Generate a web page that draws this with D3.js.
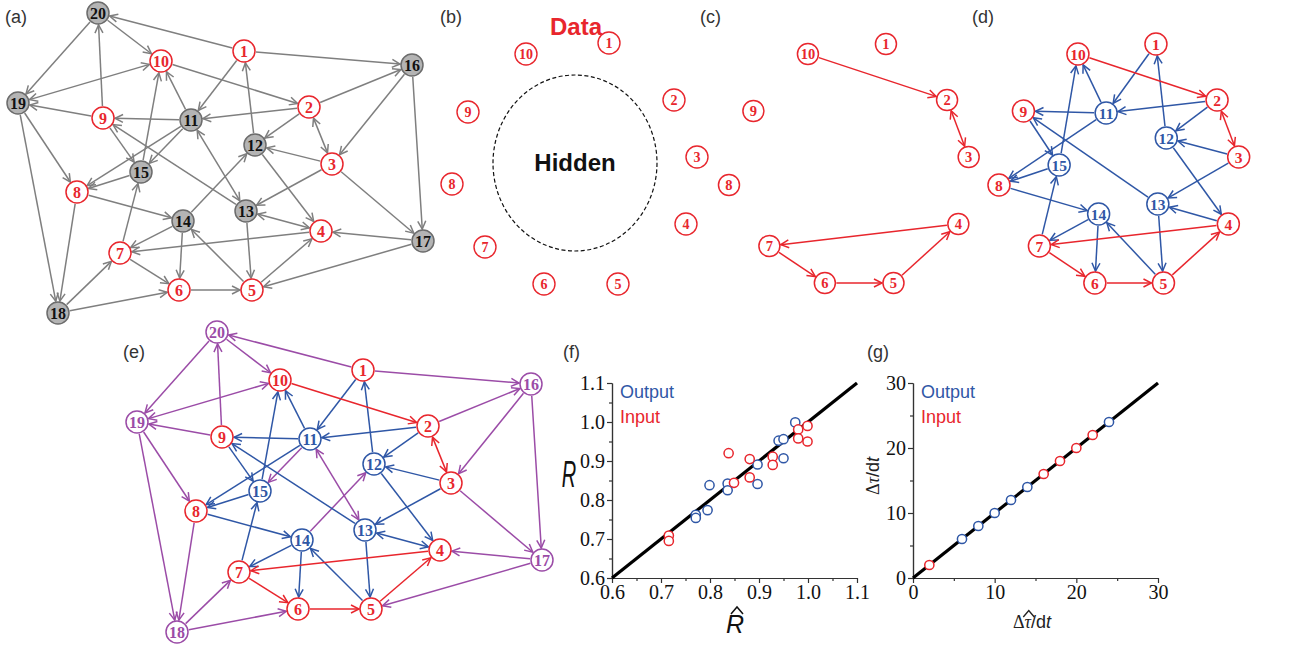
<!DOCTYPE html>
<html>
<head>
<meta charset="utf-8">
<script src="https://cdn.jsdelivr.net/npm/d3@7"></script>
<style>
body{margin:0;background:#fff;}
text{font-family:"Liberation Sans",Arial,sans-serif;}
</style>
</head>
<body>
<svg id="fig" width="1296" height="649"></svg>
<script>
// full network layout (node 1..20)
var layoutX = [244,309,332,321,252,179,120,77,103,161,191,255,246,183,141,412,423,58,18,98];
var layoutY = [51,107,164,231,290,290,253,192,118,61,120,145,211,221,172,65,241,313,103,13];
// panel (b): observed nodes 1..10 on a ring round the hidden part
var ringX = [609,674,697,686,618,544,485,452,468,526];
var ringY = [43,100,157,224,284,284,247,184,112,54];

// edges [source, target, heads]  heads: 0 one, 1 both, 2 both except in (d)
var dataEdges  = [[10,2,0],[2,3,1],[4,7,0],[7,6,0],[6,5,0],[5,4,0]];
var innerEdges = [[1,11,0],[11,10,0],[15,10,0],[2,11,0],[11,9,0],[9,15,0],[11,8,0],[15,8,0],[7,15,0],[2,12,0],
                  [12,1,0],[3,12,0],[12,4,0],[3,13,0],[13,9,0],[4,13,2],[13,5,0],[8,14,0],[14,7,0],[14,6,0],[5,14,0]];
var outerEdges = [[1,20,0],[20,19,0],[20,10,0],[1,16,0],[19,10,1],[9,20,0],[9,19,0],[11,15,0],[19,8,0],[19,18,0],
                  [8,18,0],[2,16,0],[16,3,0],[16,17,0],[3,17,0],[11,13,1],[14,12,0],[17,4,0],[17,5,0],[18,7,0],[18,6,0]];

// panel (f)
var outRhat = [0.974,0.940,0.950,0.950,0.897,0.897,0.836,0.836,0.799,0.795,0.771,0.771];
var outR    = [0.999,0.952,0.956,0.907,0.891,0.841,0.842,0.825,0.838,0.774,0.762,0.754];
var inRhat  = [0.999,0.999,0.980,0.980,0.928,0.928,0.881,0.881,0.838,0.849,0.716,0.716];
var inR     = [0.990,0.950,0.981,0.958,0.911,0.890,0.905,0.858,0.920,0.844,0.709,0.695];
var fTicks  = [0.6,0.7,0.8,0.9,1.0,1.1];
var fMinor  = [0.65,0.75,0.85,0.95,1.05];
// panel (g)
var outTauHat = [6,8,10,12,14,24];
var outTau    = [6,8,10,12,14,24];
var inTauHat  = [2,16,18,20,22];
var inTau     = [2,16,18,20,22];
var gTicks = [0,10,20,30];
var gMinor = [5,15,25];

var RED="#e8262d", BLUE="#2f57a6", PURPLE="#9b4ca7", GREY="#7f7f7f";
var SERIF = "'Liberation Serif','Times New Roman',serif";
var svg = d3.select("#fig");
var defs = svg.append("defs");
[["grey",GREY],["red",RED],["blue",BLUE],["purple",PURPLE]].forEach(function(c){
  defs.append("marker").attr("id","arr-"+c[0])
    .attr("viewBox","-10 -6 12 12").attr("refX",0).attr("refY",0)
    .attr("markerWidth",12).attr("markerHeight",12)
    .attr("markerUnits","userSpaceOnUse").attr("orient","auto-start-reverse")
    .append("path").attr("d","M-8,-4 L0,0 L-8,4")
    .attr("fill","none").attr("stroke",c[1]).attr("stroke-width",1.5);
});

function drawNet(sx, sy, sets, nodes, r, fs){
  var g = svg.append("g");
  function pos(id){ return [sx(layoutX[id-1]), sy(layoutY[id-1])]; }
  function seg(e){
    var a=pos(e[0]), b=pos(e[1]);
    var dx=b[0]-a[0], dy=b[1]-a[1], L=Math.hypot(dx,dy), ux=dx/L, uy=dy/L;
    return [a[0]+ux*(r+1), a[1]+uy*(r+1), b[0]-ux*(r+1), b[1]-uy*(r+1)];
  }
  sets.forEach(function(s){
    g.append("g").selectAll("line").data(s.edges).join("line")
      .attr("x1",function(e){return seg(e)[0];})
      .attr("y1",function(e){return seg(e)[1];})
      .attr("x2",function(e){return seg(e)[2];})
      .attr("y2",function(e){return seg(e)[3];})
      .attr("stroke",s.color).attr("stroke-width",1.5)
      .attr("marker-end","url(#arr-"+s.name+")")
      .attr("marker-start",function(e){ return (e[2]==1 || (e[2]==2 && !s.single)) ? "url(#arr-"+s.name+")" : null; });
  });
  var ng = g.append("g").selectAll("g").data(nodes).join("g")
    .attr("transform",function(d){ var p=pos(d.id); return "translate("+p[0]+","+p[1]+")"; });
  ng.append("circle").attr("r",r)
    .attr("fill",function(d){return d.fill;})
    .attr("stroke",function(d){return d.stroke;}).attr("stroke-width",1.5);
  ng.append("text").text(function(d){return d.id;})
    .attr("text-anchor","middle").attr("dy","0.36em")
    .style("font-family",SERIF)
    .style("font-weight","bold").style("font-size",fs+"px")
    .attr("fill",function(d){return d.label;});
}

function styleFor(id, mode){
  if (id<=10) return {id:id, fill:"#fff", stroke:RED, label:RED};
  if (mode=="a") return {id:id, fill:"#b4b4b4", stroke:"#6c6c6c", label:"#111"};
  if (id<=15) return {id:id, fill:"#fff", stroke:BLUE, label:BLUE};
  return {id:id, fill:"#fff", stroke:PURPLE, label:PURPLE};
}

// (a)
var ident = d3.scaleLinear().domain([0,1]).range([0,1]);
drawNet(ident, ident,
  [{name:"grey",color:GREY,edges:dataEdges.concat(innerEdges,outerEdges)}],
  d3.range(1,21).map(function(i){return styleFor(i,"a");}), 11, 16);

// (c)
drawNet(d3.scaleLinear().domain([0,1]).range([656.6,657.54]),
        d3.scaleLinear().domain([0,1]).range([-7,-6]),
  [{name:"red",color:RED,edges:dataEdges}],
  d3.range(1,11).map(function(i){return styleFor(i,"d");}), 10.5, 14.5);

// (d)
drawNet(d3.scaleLinear().domain([0,1]).range([926.6,927.54]),
        d3.scaleLinear().domain([0,1]).range([-7,-6]),
  [{name:"blue",color:BLUE,edges:innerEdges,single:true},{name:"red",color:RED,edges:dataEdges}],
  d3.range(1,16).map(function(i){return styleFor(i,"d");}), 11, 15.5);

// (e)
drawNet(d3.scaleLinear().domain([0,1]).range([119,120]),
        d3.scaleLinear().domain([0,1]).range([319,320]),
  [{name:"purple",color:PURPLE,edges:outerEdges},{name:"blue",color:BLUE,edges:innerEdges},{name:"red",color:RED,edges:dataEdges}],
  d3.range(1,21).map(function(i){return styleFor(i,"e");}), 11, 16);

// (b)
var gb = svg.append("g");
gb.append("ellipse").attr("cx",575).attr("cy",163).attr("rx",82).attr("ry",88)
  .attr("fill","none").attr("stroke","#111").attr("stroke-width",1.2).attr("stroke-dasharray","4,2.5");
gb.append("text").attr("x",575).attr("y",171).attr("text-anchor","middle")
  .style("font-weight","bold").style("font-size","24px").attr("fill","#111").text("Hidden");
gb.append("text").attr("x",576).attr("y",35).attr("text-anchor","middle")
  .style("font-weight","bold").style("font-size","24px").attr("fill",RED).text("Data");
var bn = gb.selectAll("g.bn").data(d3.range(1,11)).join("g").attr("class","bn")
  .attr("transform",function(i){return "translate("+ringX[i-1]+","+ringY[i-1]+")";});
bn.append("circle").attr("r",11).attr("fill","#fff").attr("stroke",RED).attr("stroke-width",1.4);
bn.append("text").text(function(i){return i;}).attr("text-anchor","middle").attr("dy","0.36em")
  .style("font-family",SERIF)
  .style("font-weight","bold").style("font-size","14px").attr("fill",RED);

// scatter panels
function scatter(o){
  var x = d3.scaleLinear().domain(o.dom).range([o.x0,o.x1]);
  var y = d3.scaleLinear().domain(o.dom).range([o.y0,o.y1]);
  var g = svg.append("g");
  function ax(axis, tr){
    var a = g.append("g").attr("transform",tr).call(axis)
      .attr("font-family",SERIF).attr("font-size",20);
    a.select(".domain").attr("stroke","#333").attr("stroke-width",1.2);
    a.selectAll(".tick line").attr("stroke","#333").attr("stroke-width",1.2);
    a.selectAll("text").style("font-family",SERIF).style("font-size","20px").attr("fill","#111");
    return a;
  }
  ax(d3.axisBottom(x).tickValues(o.minor).tickSize(3).tickSizeOuter(0).tickFormat(""), "translate(0,"+o.y0+")");
  ax(d3.axisLeft(y).tickValues(o.minor).tickSize(3).tickSizeOuter(0).tickFormat(""), "translate("+o.x0+",0)");
  ax(d3.axisBottom(x).tickValues(o.ticks).tickSize(5).tickSizeOuter(0).tickPadding(2).tickFormat(o.fmt), "translate(0,"+o.y0+")");
  ax(d3.axisLeft(y).tickValues(o.ticks).tickSize(5).tickSizeOuter(0).tickPadding(2).tickFormat(o.fmt), "translate("+o.x0+",0)");
  g.append("line").attr("x1",x(o.dom[0])).attr("y1",y(o.dom[0])).attr("x2",x(o.dom[1])).attr("y2",y(o.dom[1]))
    .attr("stroke","#000").attr("stroke-width",3.2);
  [[o.ox,o.oy,BLUE],[o.ix,o.iy,RED]].forEach(function(s){
    g.append("g").selectAll("circle").data(s[0]).join("circle")
      .attr("cx",function(d){return x(d);})
      .attr("cy",function(d,i){return y(s[1][i]);})
      .attr("r",4.6).attr("fill","#fff").attr("stroke",s[2]).attr("stroke-width",1.5);
  });
  g.append("text").attr("x",o.x0+8).attr("y",o.y1+15).style("font-size","18px").attr("fill",BLUE).text("Output");
  g.append("text").attr("x",o.x0+8).attr("y",o.y1+40).style("font-size","18px").attr("fill",RED).text("Input");
  return g;
}

var gf = scatter({dom:[0.6,1.1], x0:612, x1:857, y0:578, y1:383, ticks:fTicks, minor:fMinor,
  fmt:d3.format(".1f"), ox:outRhat, oy:outR, ix:inRhat, iy:inR});
gf.append("text").attr("transform","translate(569,487) scale(0.8,1.5)").attr("text-anchor","middle")
  .style("font-size","25px").style("font-style","italic").attr("fill","#111").text("R");
gf.append("text").attr("x",735).attr("y",633).attr("text-anchor","middle")
  .style("font-size","25px").style("font-style","italic").attr("fill","#111").text("R");
gf.append("path").attr("d","M731,614 L737,607 L743,614").attr("fill","none").attr("stroke","#111").attr("stroke-width",1.5);

var gg = scatter({dom:[0,30], x0:913, x1:1158, y0:578, y1:383, ticks:gTicks, minor:gMinor,
  fmt:d3.format("d"), ox:outTauHat, oy:outTau, ix:inTauHat, iy:inTau});
function tauLabel(sel){
  sel.append("tspan").style("font-family",SERIF).text("\u0394");
  sel.append("tspan").style("font-family",SERIF).style("font-style","italic").text("\u03c4");
  sel.append("tspan").text("/d");
  sel.append("tspan").style("font-style","italic").text("t");
}
var xl = gg.append("text").attr("x",1032).attr("y",628).attr("text-anchor","middle")
  .style("font-size","18px").attr("fill","#222");
tauLabel(xl);
var ext = xl.node().getExtentOfChar(1);
var hc = ext.x + ext.width/2 + 1;
gg.append("path").attr("d","M"+(hc-5.5)+","+(ext.y+5)+" L"+hc+","+(ext.y-1.5)+" L"+(hc+5.5)+","+(ext.y+5))
  .attr("fill","none").attr("stroke","#222").attr("stroke-width",1.4);
var yl = gg.append("text").attr("transform","translate(879,476) rotate(-90)").attr("text-anchor","middle")
  .style("font-size","18px").attr("fill","#222");
tauLabel(yl);

// panel letters
var letters = [["(a)",5,23],["(b)",440,23],["(c)",700,23],["(d)",972,23],["(e)",123,358],["(f)",563,358],["(g)",867,358]];
svg.append("g").selectAll("text").data(letters).join("text")
  .attr("x",function(d){return d[1];}).attr("y",function(d){return d[2];})
  .style("font-size","18px").attr("fill","#333").text(function(d){return d[0];});
</script>
</body>
</html>
